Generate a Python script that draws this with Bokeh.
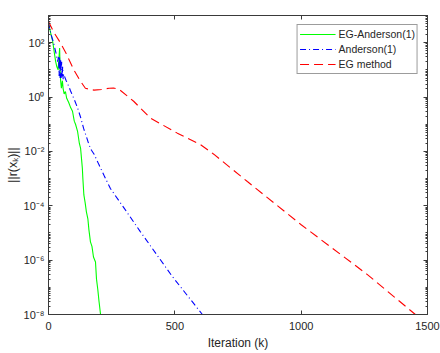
from bokeh.plotting import figure
from bokeh.models import (LinearAxis, LogAxis, FixedTicker, CustomJSTickFormatter,
                          Legend, LegendItem)
from bokeh.embed import file_html
from bokeh.resources import INLINE

# ---- data ----
ega_k = [0, 5, 10, 16, 22, 28, 33, 38, 42, 44, 46, 48, 51, 55, 58, 62, 67, 72, 80, 88,
         95, 102, 107, 115, 122, 127, 131, 134, 136, 140, 145, 150, 156, 160, 166, 172,
         178, 186, 190, 195, 200, 206]
ega_r = [5.5e2, 3.2e2, 2.0e2, 1.2e2, 5.0e1, 2.1e1, 1.3e1, 1.0e1, 3.2e1, 6.3e1, 1.0e1,
         4.0e0, 2.1e0, 4.0e0, 2.0e0, 1.3e0, 1.6e0, 9.0e-1, 6.3e-1, 4.0e-1,
         3.0e-1, 1.3e-1, 1.0e-1, 5.5e-2, 2.0e-2, 1.3e-2, 5.0e-3, 2.4e-3, 1.0e-3, 2.5e-4,
         1.3e-4, 6.0e-5, 3.2e-5, 1.3e-5, 4.7e-6, 3.2e-6, 1.3e-6, 8.5e-7, 2.0e-7, 8.5e-8,
         3.0e-8, 1.0e-8]

and_k = [0, 10, 20, 30, 36, 40, 42, 44, 46, 48, 50, 52, 54, 56, 58, 60, 70, 80, 87, 100,
         115, 127, 139, 150, 160, 170, 180, 200, 220, 245, 300, 364, 490, 609]
and_r = [5.5e2, 2.0e2, 1.0e2, 4.0e1, 2.0e1, 3.2e1, 6.0e0, 3.0e1, 5.0e0, 2.5e1, 5.0e0,
         2.0e1, 5.0e0, 1.3e1, 4.5e0, 7.0e0, 4.0e0, 2.5e0, 1.7e0, 9.0e-1,
         4.0e-1, 1.8e-1, 7.0e-2, 3.5e-2, 1.8e-2, 1.1e-2, 8.0e-3, 3.2e-3, 1.3e-3, 4.3e-4,
         8.0e-5, 1.1e-5, 2.5e-7, 1.0e-8]

eg_k = [0, 20, 47, 70, 100, 125, 146, 165, 180, 210, 240, 257, 280, 337, 404, 510,
        601, 654, 787, 1000, 1261, 1452]
eg_r = [6.0e2, 2.5e2, 1.0e2, 4.0e1, 1.0e1, 4.0e0, 2.1e0, 1.9e0, 1.8e0, 1.9e0, 2.1e0,
        2.15e0, 1.9e0, 7.0e-1, 1.66e-1, 4.7e-2, 1.8e-2, 7.9e-3, 7.8e-4, 2.0e-5,
        3.0e-7, 1.0e-8]

x_ticks = [0, 500, 1000, 1500]
y_major = [1e-8, 1e-6, 1e-4, 1e-2, 1e0, 1e2]

FONT = "Liberation Sans"
BOX = "#3a3a3a"

p = figure(frame_width=379, frame_height=299, y_axis_type="log",
           x_range=(0, 1500), y_range=(1e-8, 1e3),
           output_backend="svg", toolbar_location=None,
           min_border_left=48, min_border_right=13, min_border_top=15,
           min_border_bottom=39)
p.xgrid.visible = False
p.ygrid.visible = False
p.outline_line_color = BOX
p.background_fill_color = "white"

r_ega = p.line(ega_k, ega_r, line_color="#00ff00", line_width=1.1)
r_and = p.line(and_k, and_r, line_color="#0000ff", line_width=1.1, line_dash="6 3 1 3")
r_eg = p.line(eg_k, eg_r, line_color="#ff0000", line_width=1.1, line_dash="9 5")

y_minor = []
for e in range(-8, 3):
    for m in range(1, 10):
        v = m * 10.0 ** e
        if 1e-8 <= v <= 1e3 and not (m == 1 and e % 2 == 0):
            y_minor.append(v)
y_minor.append(1e3)

xt = FixedTicker(ticks=x_ticks, minor_ticks=[])
yt = FixedTicker(ticks=y_major, minor_ticks=y_minor)

fmt = CustomJSTickFormatter(code="""
const sup = {'-':'\u207b','0':'\u2070','1':'\u00b9','2':'\u00b2','3':'\u00b3','4':'\u2074',
             '5':'\u2075','6':'\u2076','7':'\u2077','8':'\u2078','9':'\u2079'};
const e = Math.round(Math.log10(tick));
return '10' + String(e).split('').map(c => sup[c]).join('');
""")
blank = CustomJSTickFormatter(code="return '';")

def style(ax, hidden=False):
    ax.axis_line_color = BOX
    ax.major_tick_line_color = BOX
    ax.minor_tick_line_color = BOX
    ax.major_tick_in = 4
    ax.major_tick_out = 0
    ax.minor_tick_in = 2
    ax.minor_tick_out = 0
    ax.major_label_text_font = FONT
    ax.major_label_text_font_size = "11px"
    ax.major_label_text_color = "#262626"
    ax.axis_label_text_font = FONT
    ax.axis_label_text_font_size = "12px"
    ax.axis_label_text_font_style = "normal"
    ax.axis_label_text_color = "#262626"
    if hidden:
        ax.formatter = blank
        ax.major_label_standoff = 0
        ax.axis_label_standoff = 0
        ax.major_label_text_font_size = "1px"

xa = p.xaxis[0]
xa.ticker = xt
style(xa)
xa.major_label_standoff = 7
xa.axis_label = "Iteration (k)"
xa.axis_label_standoff = 3

ya = p.yaxis[0]
ya.ticker = yt
ya.formatter = fmt
style(ya)
ya.major_label_standoff = 4
ya.axis_label = "||r(x\u2096)||"
ya.axis_label_standoff = 1
ya.axis_label_text_font_size = "12.5px"

top = LinearAxis(ticker=xt)
style(top, hidden=True)
p.add_layout(top, "above")

right = LogAxis(ticker=yt)
style(right, hidden=True)
p.add_layout(right, "right")

legend = Legend(items=[
    LegendItem(label="EG-Anderson(1)", renderers=[r_ega]),
    LegendItem(label="Anderson(1)", renderers=[r_and]),
    LegendItem(label="EG method", renderers=[r_eg]),
], location="top_right")
legend.margin = 9
legend.padding = 2
legend.spacing = 1
legend.glyph_width = 36
legend.glyph_height = 14
legend.label_height = 14
legend.label_standoff = 3
legend.label_text_font = FONT
legend.label_text_font_size = "10.5px"
legend.label_text_color = "#262626"
legend.border_line_color = BOX
legend.border_line_width = 1
legend.background_fill_color = "white"
p.add_layout(legend)

open("out.html", "w").write(file_html(p, INLINE))
